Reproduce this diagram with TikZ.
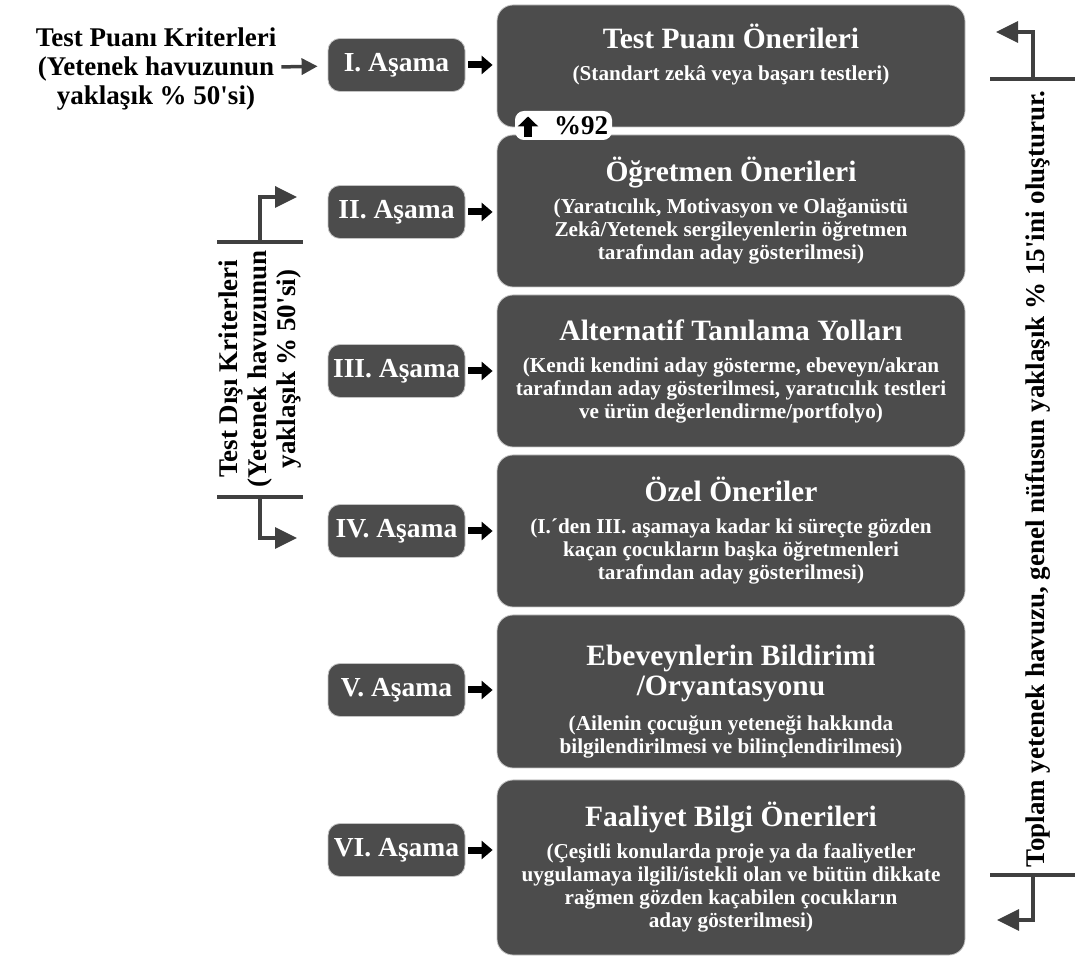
\documentclass[tikz,border=0pt]{standalone}
\usepackage{fontspec}
\setmainfont{Liberation Serif}
\usepackage{tikz}
\usetikzlibrary{arrows.meta, positioning, calc}
\definecolor{StageGray}{RGB}{76,76,76}
\definecolor{LineGray}{RGB}{64,64,64}
\definecolor{EdgeGray}{RGB}{195,195,195}

\newcommand{\titlesize}{\fontsize{29.5}{32}\selectfont}
\newcommand{\subsize}{\fontsize{21.2}{23}\selectfont}
\newcommand{\sidesize}{\fontsize{27}{29}\selectfont}
\newcommand{\stagesize}{\fontsize{27.5}{30}\selectfont}

\tikzset{
  stagebox/.style={fill=StageGray, draw=EdgeGray, line width=0.8pt, rounded corners=12pt,
    minimum width=137pt, minimum height=53pt, text=white, font=\stagesize\bfseries, inner sep=0pt},
  infobox/.style={fill=StageGray, draw=EdgeGray, line width=0.8pt, rounded corners=16pt,
    minimum width=468pt, text=white, align=center, font=\subsize\bfseries, inner sep=0pt},
  blockarrow/.style={line width=7pt, shorten <=3pt, shorten >=4pt, -{Triangle[length=11pt,width=18pt]}},
  sidearrow/.style={LineGray, line width=3.5pt, -{Triangle[length=22pt,width=21pt]}},
  leadarrow/.style={LineGray, line width=3.5pt, shorten <=3pt, shorten >=10pt, -{Triangle[length=16pt,width=16pt]}},
  sideline/.style={LineGray, line width=3.5pt},
  sidetext/.style={font=\sidesize\bfseries, align=center, inner sep=2pt},
  pcttab/.style={fill=white, draw=white, line width=4pt, rounded corners=7pt,
    minimum width=93pt, minimum height=25pt, inner sep=0pt, font=\sidesize\bfseries}
}

\begin{document}
\begin{tikzpicture}[x=1pt,y=1pt]
  \path[use as bounding box] (0,0) rectangle (1075,958);

  % main boxes
  \node[infobox, minimum height=122pt] (info1) at (731,892) {
    {\titlesize Test Puanı Önerileri}\\[9pt]
    (Standart zekâ veya başarı testleri)\\[4pt]\mbox{}};
  \node[infobox, minimum height=152pt] (info2) at (731,747) {
    {\titlesize Öğretmen Önerileri}\\[9pt]
    (Yaratıcılık, Motivasyon ve Olağanüstü\\
    Zekâ/Yetenek sergileyenlerin öğretmen\\
    tarafından aday gösterilmesi)};
  \node[infobox, minimum height=152pt] (info3) at (731,587) {
    {\titlesize Alternatif Tanılama Yolları}\\[9pt]
    (Kendi kendini aday gösterme, ebeveyn/akran\\
    tarafından aday gösterilmesi, yaratıcılık testleri\\
    ve ürün değerlendirme/portfolyo)};
  \node[infobox, minimum height=152pt] (info4) at (731,427) {
    {\titlesize Özel Öneriler}\\[9pt]
    (I.´den III. aşamaya kadar ki süreçte gözden\\
    kaçan çocukların başka öğretmenleri\\
    tarafından aday gösterilmesi)};
  \node[infobox, minimum height=153pt] (info5) at (731,266.5) {
    \mbox{}\\[17pt]
    {\titlesize Ebeveynlerin Bildirimi}\\[3pt]
    {\titlesize /Oryantasyonu}\\[12pt]
    (Ailenin çocuğun yeteneği hakkında\\
    bilgilendirilmesi ve bilinçlendirilmesi)};
  \node[infobox, minimum height=175pt] (info6) at (731,90.5) {
    {\titlesize Faaliyet Bilgi Önerileri}\\[9pt]
    (Çeşitli konularda proje ya da faaliyetler\\
    uygulamaya ilgili/istekli olan ve bütün dikkate\\
    rağmen gözden kaçabilen çocukların\\
    aday gösterilmesi)};

  % stage boxes and arrows
  \foreach \n/\lab/\y in {1/I/893, 2/II/746, 3/III/587, 4/IV/427, 5/V/268, 6/VI/108}{
    \node[stagebox] (stage\n) at (396.5,\y) {\lab. Aşama};
    \draw[blockarrow] (stage\n.east) -- (stage\n.east -| info\n.west);
  }

  % %92 tab
  \node[pcttab] (pct) at (563.5,832.5) {\hspace{35pt}\%92};
  \draw[line width=8pt, -{Triangle[length=10pt,width=20pt]}]
    ([xshift=13pt,yshift=-11.5pt]pct.west) -- ([xshift=13pt,yshift=9pt]pct.west);

  % test score criteria
  \node[sidetext] (scorecrit) at (156,889) {Test Puanı Kriterleri\\(Yetenek havuzunun\\yaklaşık \% 50\textquotesingle si)};
  \draw[leadarrow] (scorecrit) -- (stage1);

  % non-test criteria
  \node[sidetext, rotate=90] (nontest) at (260,589) {Test Dışı Kriterleri\\(Yetenek havuzunun\\yaklaşık \% 50\textquotesingle si)};
  \coordinate (ntTop) at (260,716);
  \coordinate (ntBot) at (260,461);
  \coordinate (ntUp) at (297,761);
  \coordinate (ntDown) at (297,420);
  \draw[sideline] ([xshift=-43pt]ntTop) -- ([xshift=43pt]ntTop);
  \draw[sideline] ([xshift=-43pt]ntBot) -- ([xshift=43pt]ntBot);
  \draw[sidearrow] (ntTop) |- (ntUp);
  \draw[sidearrow] (ntBot) |- (ntDown);

  % total pool
  \node[sidetext, rotate=90] (totalpool) at (1038,479) {Toplam yetenek havuzu, genel nüfusun yaklaşık \% 15\textquotesingle ini oluşturur.};
  \coordinate (tpTop) at (1033,879);
  \coordinate (tpBot) at (1033,83);
  \coordinate (tpUp) at (996,926);
  \coordinate (tpDown) at (997,38);
  \draw[sideline] ([xshift=-43pt]tpTop) -- ([xshift=42pt]tpTop);
  \draw[sideline] ([xshift=-43pt]tpBot) -- ([xshift=42pt]tpBot);
  \draw[sidearrow] (tpTop) |- (tpUp);
  \draw[sidearrow] (tpBot) |- (tpDown);
\end{tikzpicture}
\end{document}
